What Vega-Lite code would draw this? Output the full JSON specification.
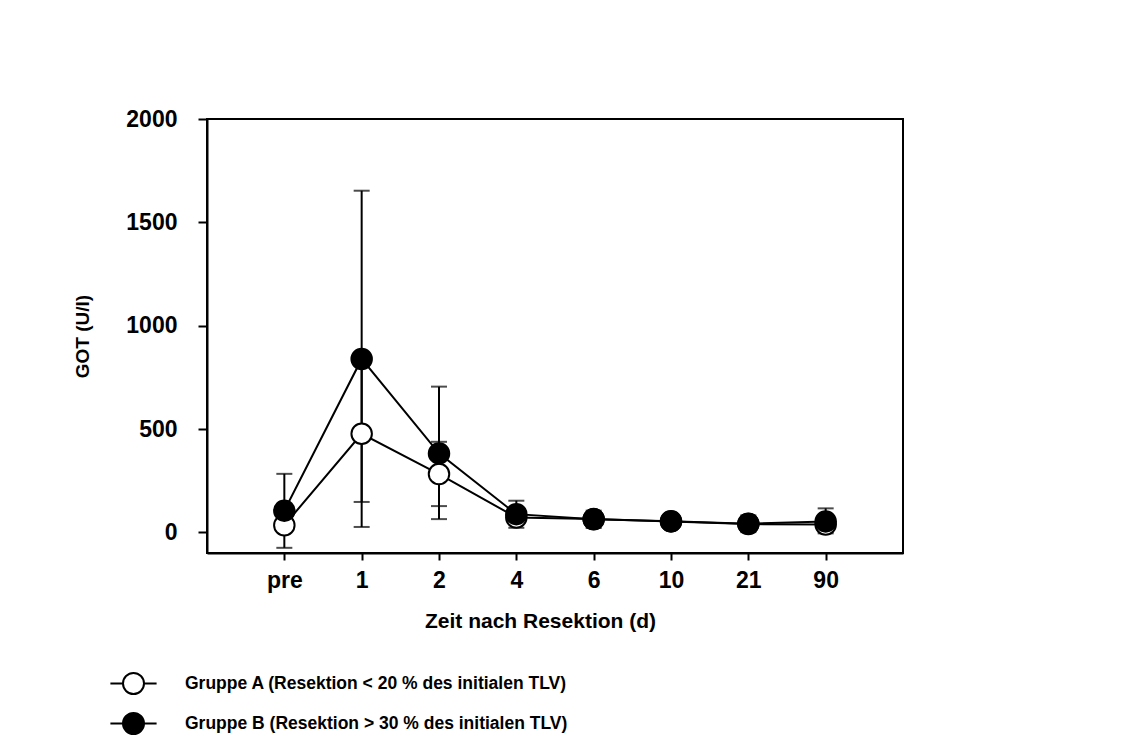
{
  "$schema": "https://vega.github.io/schema/vega-lite/v6.json",
  "width": 696,
  "height": 434,
  "autosize": "none",
  "padding": {"left": 207, "top": 119, "right": 226, "bottom": 193},
  "background": "white",
  "config": {
    "font": "Liberation Sans",
    "view": {"stroke": "black", "strokeWidth": 2},
    "axis": {"grid": false, "domainColor": "black", "domainWidth": 2, "tickColor": "black", "tickWidth": 2, "labelColor": "black", "titleColor": "black", "labelFont": "Liberation Sans", "titleFont": "Liberation Sans", "labelFontWeight": "bold", "titleFontWeight": "bold"}
  },
  "data": {
    "values": [
      {"day": "pre", "group": "Gruppe A (Resektion < 20 % des initialen TLV)", "got": 34, "lo": 10, "hi": 58},
      {"day": "1", "group": "Gruppe A (Resektion < 20 % des initialen TLV)", "got": 477, "lo": 147, "hi": 807},
      {"day": "2", "group": "Gruppe A (Resektion < 20 % des initialen TLV)", "got": 282, "lo": 127, "hi": 438},
      {"day": "4", "group": "Gruppe A (Resektion < 20 % des initialen TLV)", "got": 72, "lo": 50, "hi": 95},
      {"day": "6", "group": "Gruppe A (Resektion < 20 % des initialen TLV)", "got": 64, "lo": 36, "hi": 92},
      {"day": "10", "group": "Gruppe A (Resektion < 20 % des initialen TLV)", "got": 53, "lo": 33, "hi": 73},
      {"day": "21", "group": "Gruppe A (Resektion < 20 % des initialen TLV)", "got": 40, "lo": 16, "hi": 64},
      {"day": "90", "group": "Gruppe A (Resektion < 20 % des initialen TLV)", "got": 38, "lo": 4, "hi": 72},
      {"day": "pre", "group": "Gruppe B (Resektion > 30 % des initialen TLV)", "got": 105, "lo": -75, "hi": 283},
      {"day": "1", "group": "Gruppe B (Resektion > 30 % des initialen TLV)", "got": 839, "lo": 26, "hi": 1653},
      {"day": "2", "group": "Gruppe B (Resektion > 30 % des initialen TLV)", "got": 382, "lo": 64, "hi": 705},
      {"day": "4", "group": "Gruppe B (Resektion > 30 % des initialen TLV)", "got": 88, "lo": 22, "hi": 153},
      {"day": "6", "group": "Gruppe B (Resektion > 30 % des initialen TLV)", "got": 63, "lo": 21, "hi": 105},
      {"day": "10", "group": "Gruppe B (Resektion > 30 % des initialen TLV)", "got": 54, "lo": 30, "hi": 78},
      {"day": "21", "group": "Gruppe B (Resektion > 30 % des initialen TLV)", "got": 42, "lo": 1, "hi": 82},
      {"day": "90", "group": "Gruppe B (Resektion > 30 % des initialen TLV)", "got": 53, "lo": -5, "hi": 116}
    ]
  },
  "encoding": {
    "x": {
      "field": "day", "type": "ordinal",
      "scale": {"type": "point", "domain": ["pre", "1", "2", "4", "6", "10", "21", "90"], "padding": 1},
      "axis": {"title": "Zeit nach Resektion (d)", "labelAngle": 0, "labelFontSize": 23, "labelPadding": 9, "tickSize": 7, "titleFontSize": 21, "titlePadding": 18, "titleX": 333}
    },
    "y": {
      "field": "got", "type": "quantitative",
      "scale": {"domain": [-100, 2000], "nice": false, "zero": false},
      "axis": {"title": "GOT (U/l)", "values": [0, 500, 1000, 1500, 2000], "format": "d", "labelFontSize": 23, "labelPadding": 21, "tickSize": 9, "titleFontSize": 19, "titlePadding": 33}
    }
  },
  "layer": [
    {
      "mark": {"type": "rule", "color": "black", "strokeWidth": 2},
      "encoding": {"y": {"field": "lo", "type": "quantitative"}, "y2": {"field": "hi"}}
    },
    {
      "mark": {"type": "tick", "color": "black", "thickness": 2, "size": 16, "orient": "horizontal"},
      "encoding": {"y": {"field": "lo", "type": "quantitative"}}
    },
    {
      "mark": {"type": "tick", "color": "black", "thickness": 2, "size": 16, "orient": "horizontal"},
      "encoding": {"y": {"field": "hi", "type": "quantitative"}}
    },
    {
      "mark": {"type": "line", "color": "black", "strokeWidth": 2},
      "encoding": {"detail": {"field": "group", "type": "nominal"}}
    },
    {
      "mark": {"type": "point", "shape": "circle", "filled": true, "stroke": "black", "strokeWidth": 2, "size": 420, "opacity": 1},
      "encoding": {
        "fill": {
          "field": "group", "type": "nominal",
          "scale": {"domain": ["Gruppe A (Resektion < 20 % des initialen TLV)", "Gruppe B (Resektion > 30 % des initialen TLV)"], "range": ["white", "black"]},
          "legend": {
            "title": null, "orient": "none", "legendX": -85, "legendY": 553, "direction": "vertical",
            "symbolType": "M-2.2,0H-1M1,0H2.2M-1,0A1,1 0 1,0 1,0A1,1 0 1,0 -1,0Z",
            "symbolSize": 441, "symbolStrokeColor": "black", "symbolStrokeWidth": 2, "symbolOpacity": 1,
            "labelFont": "Liberation Sans", "labelFontSize": 17.5, "labelFontWeight": "bold", "labelColor": "black",
            "labelOffset": 40, "rowPadding": 11, "labelLimit": 600
          }
        }
      }
    }
  ]
}
